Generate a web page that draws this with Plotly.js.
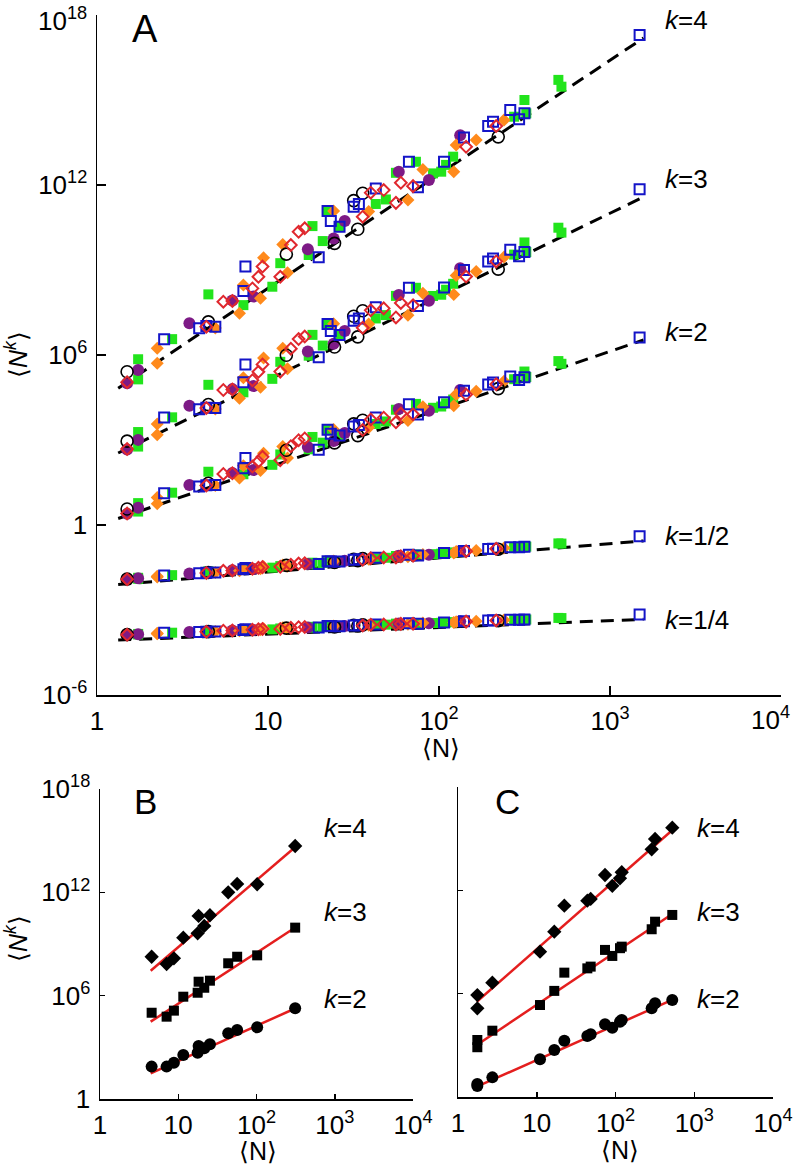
<!DOCTYPE html>
<html><head><meta charset="utf-8">
<script src="https://cdn.plot.ly/plotly-3.0.1.min.js"></script>
<style>html,body{margin:0;padding:0;background:#fff;}#chart{width:796px;height:1169px;}</style>
</head><body><div id="chart"></div>
<script>
// ===== Panel A data (x = <N>, y = <N^k> for k = 4, 3, 2, 1/2, 1/4) =====
// black open circles
const bcN  = [1.50, 4.48, 12.8, 24.5, 31.7, 35.8, 33.5, 222];
const bcK4 = [2.57e5, 1.48e7, 3.63e9, 8.71e9, 2.82e11, 5.13e11, 2.75e10, 5.01e13];
const bcK3 = [912, 1.78e4, 9.77e5, 1.91e6, 2.34e7, 3.63e7, 4.37e6, 1.07e9];
const bcK2 = [3.66, 29.6, 434, 789, 3.72e3, 5.0e3, 1.43e3, 6.53e4];
const bcKh = [0.0124, 0.0210, 0.0376, 0.0476, 0.0611, 0.0652, 0.0553, 0.140];
const bcKq = [1.36e-4, 1.73e-4, 2.30e-4, 2.53e-4, 2.89e-4, 2.99e-4, 2.71e-4, 4.19e-4];
// purple filled circles
const pcN  = [1.50, 1.74, 3.47, 6.19, 8.22, 17.1, 24.2, 28.1, 58.2, 87.3, 133];
const pcK4 = [1.0e5, 2.95e5, 1.32e7, 8.32e7, 1.15e8, 5.37e9, 1.29e10, 5.37e10, 2.95e12, 1.51e12, 5.75e13];
const pcK3 = [462, 1.01e3, 1.61e4, 6.25e4, 7.98e4, 1.32e6, 2.51e6, 7.06e6, 1.31e8, 8.22e7, 1.15e9];
const pcK2 = [2.47, 4.09, 25.8, 68.7, 86.9, 566, 927, 1.78e3, 1.24e4, 1.08e4, 5.77e4];
const pcKh = [0.0119, 0.0131, 0.0194, 0.0252, 0.0278, 0.0418, 0.0483, 0.0542, 0.0822, 0.0895, 0.121];
const pcKq = [1.32e-4, 1.39e-4, 1.68e-4, 1.89e-4, 1.97e-4, 2.40e-4, 2.56e-4, 2.72e-4, 3.32e-4, 3.40e-4, 3.97e-4];
// green filled squares
const gsN  = [1.74, 1.74, 2.75, 4.48, 7.18, 10.6, 11.8, 17.3, 18.2, 20.9, 22.3, 26.2, 42.7, 48.9, 56.0, 73.3, 92.3, 103, 110, 121, 275, 316, 324, 499, 520];
const gsK4 = [7.08e5, 1.38e5, 3.63e6, 1.38e8, 5.75e7, 2.57e8, 1.74e9, 3.39e9, 3.55e10, 1.05e10, 1.20e11, 3.39e10, 2.14e11, 3.09e11, 2.69e12, 6.61e12, 2.57e12, 2.95e12, 5.13e12, 1.0e13, 2.57e14, 1.0e15, 3.39e14, 5.13e15, 2.95e15];
const gsK3 = [1.91e3, 587, 6.31e3, 8.87e4, 4.82e4, 1.44e5, 5.74e5, 9.46e5, 5.14e6, 2.15e6, 1.25e7, 5.06e6, 1.95e7, 2.56e7, 1.22e8, 2.36e8, 1.21e8, 1.34e8, 2.01e8, 3.26e8, 3.50e9, 9.38e9, 4.31e9, 3.11e10, 2.09e10];
const gsK2 = [5.92, 2.98, 13.8, 75.9, 61.9, 133, 309, 469, 1.28e3, 805, 2.30e3, 1.43e3, 3.68e3, 4.51e3, 1.17e4, 1.88e4, 1.37e4, 1.52e4, 1.96e4, 2.68e4, 1.40e5, 2.61e5, 1.67e5, 6.10e5, 4.90e5];
const gsKh = [0.0137, 0.0126, 0.0170, 0.0234, 0.0258, 0.0312, 0.0354, 0.0410, 0.0468, 0.0458, 0.0528, 0.0519, 0.0658, 0.0697, 0.0807, 0.0914, 0.0935, 0.0971, 0.102, 0.108, 0.162, 0.181, 0.172, 0.224, 0.221];
const gsKq = [1.43e-4, 1.36e-4, 1.58e-4, 1.85e-4, 1.90e-4, 2.07e-4, 2.23e-4, 2.37e-4, 2.55e-4, 2.50e-4, 2.72e-4, 2.66e-4, 2.96e-4, 3.04e-4, 3.30e-4, 3.49e-4, 3.48e-4, 3.53e-4, 3.61e-4, 3.73e-4, 4.51e-4, 4.75e-4, 4.62e-4, 5.26e-4, 5.19e-4];
// blue open squares
const bsN  = [2.47, 3.96, 4.36, 4.92, 7.18, 7.38, 19.8, 22.3, 23.3, 26.2, 31.7, 34.0, 42.7, 66.7, 75.3, 107, 140, 194, 207, 261, 294, 316, 1490];
const bsK4 = [3.63e6, 8.71e6, 1.05e7, 1.0e7, 1.82e8, 1.32e9, 2.82e9, 1.20e11, 5.37e10, 3.39e10, 1.70e11, 2.14e11, 7.59e11, 6.61e12, 8.32e11, 6.61e12, 4.79e13, 1.20e14, 1.70e14, 4.47e14, 2.09e14, 3.39e14, 1.95e17];
const bsK3 = [6.28e3, 1.21e4, 1.38e4, 1.35e4, 1.10e5, 4.61e5, 8.32e5, 1.25e7, 7.01e6, 5.06e6, 1.63e7, 1.93e7, 4.84e7, 2.35e8, 5.32e7, 2.40e8, 1.01e9, 2.0e9, 2.57e9, 5.21e9, 3.03e9, 4.31e9, 7.08e11];
const bsK2 = [13.3, 22.7, 25.4, 25.9, 100, 233, 455, 2.30e3, 1.66e3, 1.43e3, 3.01e3, 3.40e3, 6.27e3, 1.82e4, 7.98e3, 2.15e4, 5.45e4, 9.02e4, 1.07e5, 1.73e5, 1.32e5, 1.65e5, 4.14e6];
const bsKh = [0.0164, 0.0197, 0.0205, 0.0212, 0.0274, 0.0305, 0.0423, 0.0528, 0.0514, 0.0519, 0.0596, 0.0615, 0.0700, 0.0889, 0.0832, 0.102, 0.122, 0.141, 0.146, 0.164, 0.164, 0.171, 0.398];
const bsKq = [1.56e-4, 1.68e-4, 1.71e-4, 1.73e-4, 1.97e-4, 2.10e-4, 2.39e-4, 2.72e-4, 2.66e-4, 2.66e-4, 2.85e-4, 2.89e-4, 3.08e-4, 3.44e-4, 3.29e-4, 3.64e-4, 3.97e-4, 4.23e-4, 4.31e-4, 4.55e-4, 4.51e-4, 4.60e-4, 6.92e-4];
// orange filled diamonds
const odN  = [2.25, 2.25, 4.92, 6.81, 7.18, 9.42, 9.04, 12.2, 13.0, 24.2, 38.8, 65.8, 80.5, 122, 126, 165, 240];
const odK4 = [1.74e6, 5.13e5, 8.91e6, 2.95e7, 2.95e8, 2.69e9, 1.0e8, 7.94e9, 7.94e8, 1.20e11, 1.15e11, 2.95e11, 3.55e12, 2.95e12, 2.57e13, 3.89e13, 1.95e14];
const odK3 = [3.68e3, 1.53e3, 1.24e4, 2.98e4, 1.56e5, 7.80e5, 7.26e4, 1.72e6, 3.27e5, 1.26e7, 1.24e7, 2.51e7, 1.51e8, 1.36e8, 6.44e8, 8.77e8, 2.86e9];
const odK2 = [9.42, 5.65, 24.7, 46.0, 123, 344, 84.7, 592, 230, 2.37e3, 2.74e3, 4.92e3, 1.50e4, 1.61e4, 4.04e4, 5.30e4, 1.19e5];
const odKh = [0.0154, 0.0145, 0.0211, 0.0245, 0.0281, 0.0339, 0.0284, 0.0385, 0.0350, 0.0541, 0.0621, 0.0759, 0.0910, 0.102, 0.115, 0.127, 0.154];
const odKq = [1.51e-4, 1.45e-4, 1.73e-4, 1.85e-4, 2.0e-4, 2.20e-4, 1.99e-4, 2.34e-4, 2.20e-4, 2.74e-4, 2.88e-4, 3.14e-4, 3.45e-4, 3.60e-4, 3.85e-4, 4.02e-4, 4.40e-4];
// red open diamonds
const rdN  = [1.50, 4.36, 5.48, 6.19, 8.11, 8.79, 9.29, 11.8, 13.6, 15.1, 16.4, 35.8, 39.9, 47.5, 56.0, 59.8, 70.5, 144, 216];
const rdK4 = [1.1e5, 1.0e7, 7.59e7, 8.0e7, 2.24e8, 5.75e8, 1.32e9, 5.75e8, 7.59e9, 2.24e10, 2.95e10, 7.59e10, 5.37e11, 6.61e11, 2.34e11, 1.20e12, 9.12e11, 2.24e13, 1.20e14];
const rdK3 = [480, 1.35e4, 5.82e4, 6.1e4, 1.29e5, 2.55e5, 4.66e5, 2.59e5, 1.67e6, 3.66e6, 4.48e6, 9.16e6, 3.77e7, 4.42e7, 2.11e7, 6.87e7, 5.66e7, 5.87e8, 2.01e9];
const rdK2 = [2.55, 25, 63.4, 67, 115, 175, 254, 195, 604, 989, 1.14e3, 2.24e3, 5.30e3, 6.15e3, 4.22e3, 8.57e3, 8.09e3, 4.0e4, 9.35e4];
const rdKh = [0.0121, 0.0203, 0.0242, 0.0250, 0.0286, 0.0307, 0.0326, 0.0335, 0.0397, 0.0434, 0.0450, 0.0593, 0.0675, 0.0718, 0.0714, 0.0793, 0.0820, 0.119, 0.145];
const rdKq = [1.33e-4, 1.70e-4, 1.86e-4, 1.88e-4, 2.01e-4, 2.08e-4, 2.15e-4, 2.15e-4, 2.36e-4, 2.47e-4, 2.51e-4, 2.82e-4, 3.03e-4, 3.10e-4, 3.06e-4, 3.24e-4, 3.27e-4, 3.89e-4, 4.29e-4];
// dashed fits, panel A
const fitAN  = [1.33, 1570];
const fitAK4 = [6.76e4, 1.55e17];
const fitAK3 = [347, 3.80e11];
const fitAK2 = [1.70, 3.39e6];
const fitAKh = [7.94e-3, 0.275];
const fitAKq = [8.7e-5, 4.68e-4];
const kLabelsA = ['<i>k</i>=4', '<i>k</i>=3', '<i>k</i>=2', '<i>k</i>=1/2', '<i>k</i>=1/4'];

// ===== Panel B data =====
const bN  = [4.57, 7.1, 8.8, 11.6, 17.7, 18.2, 21.5, 25.4, 43.5, 56.6, 102, 312];
const bK4 = [1.82e8, 6.92e7, 1.48e8, 2.34e9, 4.17e9, 4.27e10, 1.12e10, 4.68e10, 1.0e12, 3.09e12, 2.95e12, 4.90e14];
const bK3 = [1.02e5, 6.03e4, 1.35e5, 8.71e5, 1.48e6, 6.46e6, 2.88e6, 7.41e6, 7.59e7, 1.82e8, 2.19e8, 8.91e9];
const bK2 = [75.9, 75.9, 129, 363, 490, 1.20e3, 871, 1.51e3, 6.61e3, 1.02e4, 1.45e4, 1.86e5];
const fitBN  = [4.44, 316];
const fitBK4 = [2.82e7, 4.47e14];
const fitBK3 = [3.09e4, 9.33e9];
const fitBK2 = [30.9, 1.86e5];

// ===== Panel C data =====
const cN  = [1.76, 1.76, 2.73, 11.0, 16.7, 22.4, 43.9, 48.4, 73.6, 91.1, 114, 120, 288, 318, 526];
const cK4 = [8.32e5, 1.41e5, 4.37e6, 2.75e8, 3.98e9, 1.29e11, 2.51e11, 3.16e11, 7.76e12, 1.82e12, 5.01e12, 1.12e13, 2.40e14, 9.55e14, 4.37e15];
const cK3 = [2.04e3, 776, 7.08e3, 2.19e5, 1.45e6, 1.66e7, 2.95e7, 3.72e7, 3.47e8, 1.55e8, 4.37e8, 5.37e8, 5.50e9, 1.51e10, 3.72e10];
const cK2 = [5.62, 4.37, 13.8, 155, 537, 1.86e3, 3.47e3, 4.37e3, 1.66e4, 1.05e4, 2.34e4, 2.95e4, 1.41e5, 2.75e5, 4.27e5];
const fitCN  = [1.73, 542];
const fitCK4 = [3.39e5, 3.55e15];
const fitCK3 = [1.05e3, 4.68e10];
const fitCK2 = [3.98, 4.68e5];

// tick labels
const xTickVals = [1, 10, 100, 1000, 10000];
const xTickText = ['1', '10', '10<sup>2</sup>', '10<sup>3</sup>', '10<sup>4</sup>'];
const xTickTextA = ['1', '10', '10<sup>2</sup>', '10<sup>3</sup>', ''];
const yTickValsA = [1e-6, 1, 1e6, 1e12, 1e18];
const yTickTextA = ['10<sup>-6</sup>', '1', '10<sup>6</sup>', '10<sup>12</sup>', ''];
const yTopLabelA = '10<sup>18</sup>';
const yTickValsB = [1, 1e6, 1e12, 1e18];
const yTickTextB = ['1', '10<sup>6</sup>', '10<sup>12</sup>', '10<sup>18</sup>'];

// ===== build =====
const W = 796, H = 1169;
const FONT = 'Liberation Sans, Arial, Helvetica, sans-serif';
function px(x) { return x / W; }
function py(y) { return 1 - y / H; }

function seriesA(N, k4, k3, k2, kh, kq, style) {
  const x = [].concat(N, N, N, N, N);
  const y = [].concat(k4, k3, k2, kh, kq);
  return Object.assign({ type: 'scatter', mode: 'markers', x: x, y: y, xaxis: 'x', yaxis: 'y', hoverinfo: 'skip', cliponaxis: false }, style);
}
const traces = [];
[fitAK4, fitAK3, fitAK2, fitAKh, fitAKq].forEach(function (fy) {
  traces.push({ type: 'scatter', mode: 'lines', x: fitAN, y: fy, xaxis: 'x', yaxis: 'y',
    line: { color: '#000', width: 3, dash: '13px,8px' }, hoverinfo: 'skip' });
});
traces.push(seriesA(gsN, gsK4, gsK3, gsK2, gsKh, gsKq, { marker: { symbol: 'square', size: 10, color: '#22e41c', line: { width: 0 } } }));
traces.push(seriesA(pcN, pcK4, pcK3, pcK2, pcKh, pcKq, { marker: { symbol: 'circle', size: 12, color: '#7d1a86', line: { width: 0 } } }));
traces.push(seriesA(odN, odK4, odK3, odK2, odKh, odKq, { marker: { symbol: 'diamond', size: 10, color: '#ff8a1c', line: { width: 0 } } }));
traces.push(seriesA(bcN, bcK4, bcK3, bcK2, bcKh, bcKq, { marker: { symbol: 'circle-open', size: 12, color: '#000', line: { width: 1.6, color: '#000' } } }));
traces.push(seriesA(bsN, bsK4, bsK3, bsK2, bsKh, bsKq, { marker: { symbol: 'square-open', size: 10, color: '#1414c8', line: { width: 2, color: '#1414c8' } } }));
traces.push(seriesA(rdN, rdK4, rdK3, rdK2, rdKh, rdKq, { marker: { symbol: 'diamond-open', size: 9, color: '#e0282e', line: { width: 2, color: '#e0282e' } } }));

function panelBC(ax, N, k4, k3, k2, fN, f4, f3, f2) {
  const xa = 'x' + ax, ya = 'y' + ax;
  [f4, f3, f2].forEach(function (fy) {
    traces.push({ type: 'scatter', mode: 'lines', x: fN, y: fy, xaxis: xa, yaxis: ya,
      line: { color: '#e41e1e', width: 2.5 }, hoverinfo: 'skip' });
  });
  traces.push({ type: 'scatter', mode: 'markers', x: N, y: k4, xaxis: xa, yaxis: ya, hoverinfo: 'skip', cliponaxis: false,
    marker: { symbol: 'diamond', size: 11, color: '#000' } });
  traces.push({ type: 'scatter', mode: 'markers', x: N, y: k3, xaxis: xa, yaxis: ya, hoverinfo: 'skip', cliponaxis: false,
    marker: { symbol: 'square', size: 10, color: '#000' } });
  traces.push({ type: 'scatter', mode: 'markers', x: N, y: k2, xaxis: xa, yaxis: ya, hoverinfo: 'skip', cliponaxis: false,
    marker: { symbol: 'circle', size: 12, color: '#000' } });
}
panelBC('2', bN, bK4, bK3, bK2, fitBN, fitBK4, fitBK3, fitBK2);
panelBC('3', cN, cK4, cK3, cK2, fitCN, fitCK4, fitCK3, fitCK2);

const TICKSIZE = 26;
function xAxis(domain, anchor, ticklen, ttext) {
  return { type: 'log', range: [0, 4], domain: domain, anchor: anchor, showline: true, linecolor: '#000', linewidth: 1.5,
    ticks: 'inside', ticklen: ticklen, tickwidth: 1.5, tickcolor: '#000', showgrid: false, zeroline: false,
    tickmode: 'array', tickvals: xTickVals, ticktext: ttext, ticklabeloverflow: 'allow', ticklabelstandoff: 2,
    tickfont: { family: FONT, size: TICKSIZE, color: '#000' } };
}
function yAxis(domain, anchor, range, vals, text, ticklen, showLabels) {
  return { type: 'log', range: range, domain: domain, anchor: anchor, showline: true, linecolor: '#000', linewidth: 1.5,
    ticks: 'inside', ticklen: ticklen, tickwidth: 1.5, tickcolor: '#000', showgrid: false, zeroline: false,
    tickmode: 'array', tickvals: vals, ticktext: text, showticklabels: showLabels, ticklabelstandoff: 3,
    ticklabeloverflow: 'allow', tickfont: { family: FONT, size: TICKSIZE, color: '#000' } };
}

const ann = [];
function text(t, x, y, size, opts) {
  ann.push(Object.assign({ text: t, x: px(x), y: py(y), xref: 'paper', yref: 'paper', showarrow: false,
    xanchor: 'center', yanchor: 'middle', font: { family: FONT, size: size, color: '#000' } }, opts || {}));
}
text('A', 145, 29, 38);
text('B', 145, 801, 35);
text('C', 507, 801, 35);
// end tick labels of panel A, kept inside the page as in the figure
text(xTickText[4], 792, 700, TICKSIZE, { xanchor: 'right', yanchor: 'top' });
text(yTopLabelA, 89, 1, TICKSIZE, { xanchor: 'right', yanchor: 'top' });
const kyA = [20, 179, 332, 536, 620];
kLabelsA.forEach(function (t, i) { text(t, 663, kyA[i], 26, { xanchor: 'left' }); });
const kyBC = [828, 912, 999];
['<i>k</i>=4', '<i>k</i>=3', '<i>k</i>=2'].forEach(function (t, i) {
  text(t, 322, kyBC[i], 26, { xanchor: 'left' });
  text(t, 695, kyBC[i], 26, { xanchor: 'left' });
});
text('\u27E8N\u27E9', 441, 748, 25);
text('\u27E8N\u27E9', 258, 1151, 25);
text('\u27E8N\u27E9', 620, 1150, 25);
text('\u27E8<i>N</i><sup><i>k</i></sup>\u27E9', 16, 355, 25, { textangle: -90 });
text('\u27E8<i>N</i><sup><i>k</i></sup>\u27E9', 16, 939, 25, { textangle: -90 });

const layout = {
  width: W, height: H, autosize: false, showlegend: false,
  margin: { l: 0, r: 0, t: 0, b: 0, pad: 0 },
  paper_bgcolor: '#fff', plot_bgcolor: 'rgba(0,0,0,0)',
  font: { family: FONT, color: '#000' },
  xaxis: xAxis([px(97), px(781)], 'y', 9, xTickTextA),
  yaxis: yAxis([py(695), py(15)], 'x', [-6, 18], yTickValsA, yTickTextA, 9, true),
  xaxis2: xAxis([px(100), px(413)], 'y2', 5, xTickText),
  yaxis2: yAxis([py(1099), py(789)], 'x2', [0, 18], yTickValsB, yTickTextB, 5, true),
  xaxis3: xAxis([px(458), px(773)], 'y3', 5, xTickText),
  yaxis3: yAxis([py(1097), py(787)], 'x3', [0, 18], yTickValsB, yTickTextB, 5, false),
  annotations: ann
};
Plotly.newPlot('chart', traces, layout, { displayModeBar: false, staticPlot: true });
</script>
</body></html>
